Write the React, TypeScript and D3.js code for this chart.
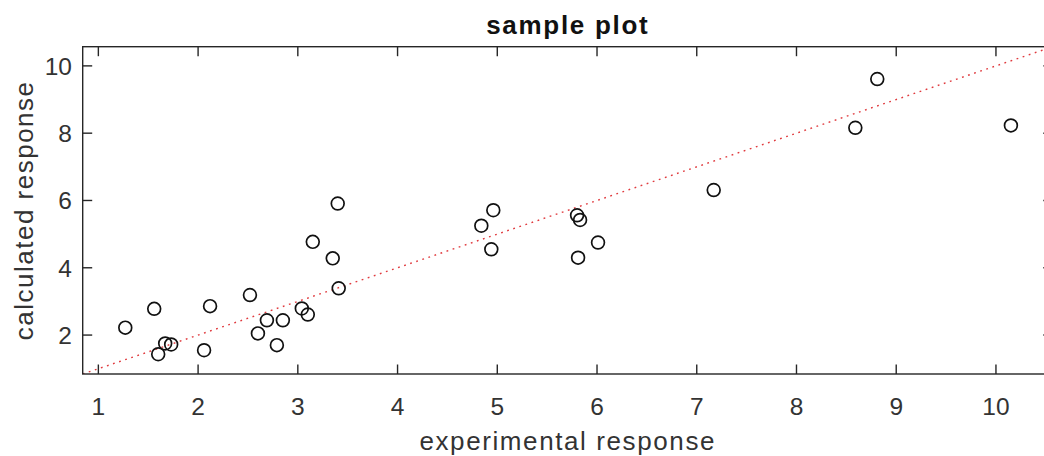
import React from "react";
import * as d3 from "d3";

// Measured vs. predicted response values
const experimental = [
  1.27, 1.56, 1.6, 1.67, 1.73, 2.06, 2.12, 2.52, 2.6, 2.69, 2.79, 2.85, 3.04, 3.1, 3.15,
  3.35, 3.4, 3.41, 4.84, 4.94, 4.96, 5.8, 5.83, 5.81, 6.01, 7.17, 8.59, 8.81, 10.15,
];
const calculated = [
  2.22, 2.78, 1.43, 1.75, 1.72, 1.55, 2.86, 3.19, 2.05, 2.44, 1.7, 2.44, 2.79, 2.61, 4.77,
  4.28, 5.91, 3.39, 5.25, 4.55, 5.71, 5.56, 5.42, 4.3, 4.75, 6.31, 8.16, 9.61, 8.23,
];

const axisLimits = [0.843, 10.57];
const xTicks = [1, 2, 3, 4, 5, 6, 7, 8, 9, 10];
const yTicks = [2, 4, 6, 8, 10];

const titleText = "sample plot";
const xLabel = "experimental response";
const yLabel = "calculated response";

const W = 1044;
const H = 456;
const left = 82.7;
const right = 1052.8;
const top = 46.7;
const bottom = 374;
const tickLen = 9.5;
const axisColor = "#262626";
const font = "'Liberation Sans', Arial, Helvetica, sans-serif";

export default function App() {
  const x = d3.scaleLinear().domain(axisLimits).range([left, right]);
  const y = d3.scaleLinear().domain(axisLimits).range([bottom, top]);

  const points = experimental.map((e, i) => ({ e, c: calculated[i] }));
  const identity = d3.line<number>()
    .x((v) => x(v))
    .y((v) => y(v))(axisLimits);

  const cx = (left + right) / 2;
  const cy = (top + bottom) / 2;

  return (
    <svg
      width={W}
      height={H}
      viewBox={`0 0 ${W} ${H}`}
      style={{ position: "absolute", left: 0, top: 0, background: "#fff" }}
    >
      <defs>
        <clipPath id="plot-area">
          <rect x={left} y={top} width={right - left} height={bottom - top} />
        </clipPath>
      </defs>
      <rect x={0} y={0} width={W} height={H} fill="#fff" />

      {/* y = x reference line */}
      <path
        d={identity ?? ""}
        clipPath="url(#plot-area)"
        fill="none"
        stroke="#e0393d"
        strokeWidth={1.4}
        strokeDasharray="1.8 4.6"
      />

      {/* data markers */}
      <g fill="none" stroke="#111" strokeWidth={1.7}>
        {points.map((p, i) => (
          <circle key={i} cx={x(p.e)} cy={y(p.c)} r={6.4} />
        ))}
      </g>

      {/* axes box */}
      <g stroke={axisColor} strokeWidth={1.4} fill="none">
        <rect x={left} y={top} width={right - left} height={bottom - top} />
        {xTicks.map((t) => (
          <g key={`xt${t}`}>
            <line x1={x(t)} x2={x(t)} y1={bottom} y2={bottom - tickLen} />
            <line x1={x(t)} x2={x(t)} y1={top} y2={top + tickLen} />
          </g>
        ))}
        {yTicks.map((t) => (
          <g key={`yt${t}`}>
            <line x1={left} x2={left + tickLen} y1={y(t)} y2={y(t)} />
            <line x1={right} x2={right - tickLen} y1={y(t)} y2={y(t)} />
          </g>
        ))}
      </g>

      {/* tick labels */}
      <g fill="#333" fontFamily={font} fontSize={24.5}>
        {xTicks.map((t) => (
          <text key={`xl${t}`} x={x(t)} y={415} textAnchor="middle">
            {t}
          </text>
        ))}
        {yTicks.map((t) => (
          <text key={`yl${t}`} x={72} y={y(t) + 8.8} textAnchor="end">
            {t}
          </text>
        ))}
      </g>

      {/* title and axis labels */}
      <text
        x={cx}
        y={34}
        textAnchor="middle"
        fontFamily={font}
        fontSize={26}
        fontWeight="bold"
        letterSpacing={1.7}
        fill="#111"
      >
        {titleText}
      </text>
      <text
        x={cx}
        y={450}
        textAnchor="middle"
        fontFamily={font}
        fontSize={26}
        letterSpacing={1.6}
        fill="#333"
      >
        {xLabel}
      </text>
      <text
        transform={`translate(33, ${cy}) rotate(-90)`}
        textAnchor="middle"
        fontFamily={font}
        fontSize={26}
        letterSpacing={1.5}
        fill="#333"
      >
        {yLabel}
      </text>
    </svg>
  );
}
